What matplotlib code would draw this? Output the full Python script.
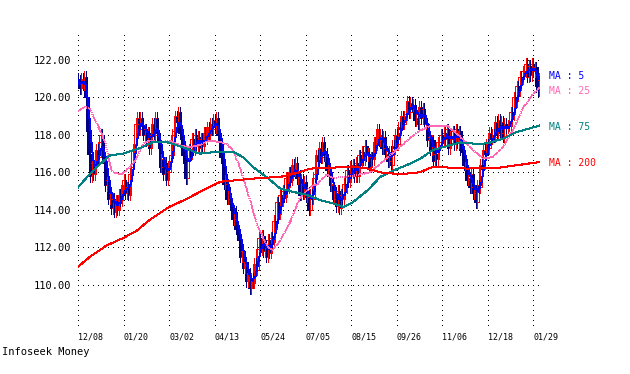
import numpy as np
import pandas as pd
import matplotlib
matplotlib.use('Agg')
import matplotlib.pyplot as plt

# daily closes, 12/08 .. 01/29 (about 305 trading days)
closes = [
    120.9, 120.5, 121.0, 120.7, 121.1, 120.0, 118.2, 117.0, 115.8, 116.5,
    115.9, 116.6, 117.2, 116.8, 117.6, 118.0, 117.1, 116.5, 115.3, 115.6,
    114.6, 114.9, 114.1, 114.6, 113.9, 114.5, 114.0, 114.8, 114.5, 115.3,
    115.6, 114.9, 115.2, 114.8, 115.9, 116.3, 117.2, 117.5, 118.6, 118.9,
    118.3, 118.9, 118.5, 118.0, 118.3, 117.7, 118.1, 117.3, 118.0, 118.6,
    118.0, 118.9, 118.1, 117.6, 116.3, 116.7, 115.9, 116.5, 115.6, 116.0,
    116.6, 116.9, 118.0, 118.2, 119.0, 118.7, 119.2, 118.1, 118.0, 116.9,
    116.5, 115.7, 116.6, 117.2, 117.0, 117.8, 117.2, 118.0, 117.4, 117.9,
    117.3, 117.8, 117.4, 118.1, 117.8, 118.4, 118.0, 118.6, 118.3, 118.8,
    118.4, 118.9, 118.0, 117.8, 116.8, 116.6, 115.4, 115.6, 114.6, 114.9,
    114.3, 114.0, 113.5, 113.9, 113.0, 112.7, 112.4, 111.5, 111.8, 110.9,
    111.2, 110.2, 110.6, 109.8, 110.3, 110.1, 111.1, 110.8, 111.9, 112.5,
    111.9, 112.6, 111.8, 112.1, 111.5, 112.4, 111.7, 112.5, 112.3, 113.4,
    113.3, 114.4, 113.8, 114.8, 114.5, 115.0, 114.7, 115.7, 115.2, 116.0,
    115.6, 116.4, 116.1, 116.5, 115.7, 115.8, 114.8, 115.6, 114.9, 115.5,
    114.7, 114.9, 114.0, 114.8, 114.6, 115.7, 115.9, 116.9, 116.6, 117.3,
    116.8, 117.6, 116.9, 117.0, 116.1, 116.2, 115.3, 115.4, 114.6, 114.9,
    114.2, 115.0, 114.1, 114.8, 114.6, 115.4, 115.2, 116.1, 115.5, 116.3,
    116.0, 116.4, 115.8, 116.5, 115.8, 116.9, 116.6, 117.1, 116.7, 117.4,
    116.9, 117.0, 116.3, 116.8, 116.7, 117.6, 117.5, 118.3, 117.7, 118.0,
    117.3, 117.9, 117.0, 117.0, 116.6, 117.1, 116.4, 117.4, 117.3, 118.0,
    117.5, 118.4, 118.3, 119.0, 118.6, 119.0, 119.1, 119.8, 119.2, 119.7,
    119.6, 119.6, 118.8, 118.9, 118.6, 119.5, 118.9, 119.4, 118.6, 118.6,
    117.7, 117.9, 117.2, 117.7, 116.6, 117.0, 116.7, 117.6, 117.6, 118.0,
    117.7, 118.1, 117.8, 118.3, 117.3, 117.9, 117.8, 118.2, 117.5, 118.3,
    117.6, 118.2, 117.2, 117.1, 116.4, 116.4, 115.6, 115.7, 115.2, 115.9,
    114.9, 115.0, 114.4, 115.3, 115.2, 116.4, 116.2, 117.2, 117.0, 117.5,
    117.3, 118.1, 117.8, 118.0, 117.9, 118.7, 118.0, 118.8, 118.1, 118.7,
    117.9, 118.6, 118.4, 118.5, 118.5, 119.2, 119.1, 120.0, 119.8, 120.6,
    120.4, 121.1, 121.0, 121.4, 121.4, 121.8, 121.1, 121.7, 121.2, 121.8,
    121.4, 121.6, 120.6, 120.4, 121.0,
]
first_open = 121.0
WICK = 0.3

# longer moving averages (day index, value)
ma25_day = [0, 4, 8, 11, 14, 18, 20, 22, 25, 29, 33, 38, 41, 44, 47, 54, 61,
            67, 74, 80, 87, 94, 98, 102, 107, 113, 118, 125, 128, 133, 140,
            146, 153, 158, 164, 168, 175, 184, 192, 197, 204, 212, 217, 223,
            232, 243, 252, 260, 267, 273, 280, 287, 293, 300, 304]
ma25_val = [119.25, 119.5, 119.4, 118.8, 118.35, 117.6, 116.8, 116.1, 115.95,
            115.9, 116.2, 116.65, 117.2, 117.6, 117.7, 117.6, 117.7, 117.45,
            117.35, 117.45, 117.7, 117.6, 117.5, 117.2, 116.2, 114.6, 113.2,
            112.0, 111.85, 112.3, 113.4, 114.6, 115.2, 115.4, 115.9, 115.7,
            115.75, 115.85, 116.0, 116.3, 116.8, 117.35, 117.7, 118.1, 118.5,
            118.5, 117.9, 117.2, 116.75, 116.8, 117.35, 118.3, 119.4, 120.2,
            120.5]

ma75_day = [0, 6, 14, 21, 30, 41, 49, 59, 67, 80, 92, 102, 109, 115, 125, 133,
            142, 151, 160, 168, 175, 181, 191, 199, 208, 217, 225, 234, 252,
            265, 272, 280, 289, 300, 304]
ma75_val = [115.2, 115.75, 116.4, 116.9, 117.0, 117.3, 117.6, 117.6, 117.4,
            117.0, 117.1, 117.1, 116.8, 116.3, 115.7, 115.15, 114.95, 114.8,
            114.5, 114.35, 114.15, 114.4, 115.05, 115.75, 116.1, 116.4, 116.7,
            117.2, 117.6, 117.5, 117.6, 117.8, 118.15, 118.4, 118.5]

ma200_day = [0, 8, 19, 30, 39, 47, 59, 72, 85, 94, 107, 120, 133, 146, 153,
             168, 181, 191, 199, 212, 225, 234, 256, 278, 291, 304]
ma200_val = [110.95, 111.5, 112.1, 112.5, 112.9, 113.45, 114.1, 114.6, 115.15,
             115.5, 115.6, 115.7, 115.75, 116.0, 116.2, 116.25, 116.3, 116.2,
             116.0, 115.9, 116.0, 116.3, 116.2, 116.25, 116.4, 116.55]

date_pos = [0, 30, 60, 90, 120, 150, 180, 210, 240, 270, 300]
date_lbl = ['12/08', '01/20', '03/02', '04/13', '05/24', '07/05', '08/15',
            '09/26', '11/06', '12/18', '01/29']
price_ticks = [110, 112, 114, 116, 118, 120, 122]

ma_names = ['MA : 5', 'MA : 25', 'MA : 75', 'MA : 200']

C_UP, C_DN = '#FF0000', '#000080'
C5, C25, C75, C200 = '#0000FF', '#FF69B4', '#008080', '#FF0000'
MONO = 'DejaVu Sans Mono'
LW = 0.72  # one pixel at 100 dpi

plt.rcParams.update({'lines.antialiased': False, 'patch.antialiased': False,
                     'font.family': MONO})

c = np.array(closes)
o = np.concatenate([[first_open], c[:-1]])
idx = np.arange(len(c))
hi = np.maximum(o, c) + WICK
lo = np.minimum(o, c) - WICK
up = c >= o
ma5 = pd.Series(c).rolling(5, min_periods=1).mean().values

fig = plt.figure(figsize=(6.3, 3.74), dpi=100)
ax = fig.add_axes([78 / 630, 44 / 374, 462 / 630, 300 / 374])
for s in ax.spines.values():
    s.set_visible(False)

# candles
ax.vlines(idx[up], lo[up], hi[up], color=C_UP, lw=LW)
ax.vlines(idx[~up], lo[~up], hi[~up], color=C_DN, lw=LW)
ax.bar(idx[~up], (o - c)[~up], bottom=c[~up], width=1.9,
       color=C_DN, edgecolor=C_DN, lw=LW)
ax.bar(idx[up], (c - o)[up], bottom=o[up], width=1.9,
       facecolor='none', edgecolor=C_UP, lw=LW)

# moving averages
ax.plot(idx, ma5, color=C5, lw=LW)
ax.plot(ma25_day, ma25_val, color=C25, lw=LW, ls=(0, (1, 2)))
ax.plot(ma75_day, ma75_val, color=C75, lw=LW)
ax.plot(ma200_day, ma200_val, color=C200, lw=LW)

ax.set_xlim(0, 304.4)
ax.set_ylim(107.58, 123.6)
ax.set_yticks(price_ticks)
ax.set_yticklabels(['%.2f' % v for v in price_ticks], fontsize=7.5)
ax.set_xticks(date_pos)
ax.set_xticklabels(date_lbl, fontsize=6, ha='left')
ax.tick_params(axis='y', length=0, pad=5)
ax.tick_params(axis='x', length=0, pad=2)
ax.grid(True, color='black', lw=LW, ls=(0, (1, 4.5)))
ax.set_axisbelow(True)

# legend labels at the right edge, stacked near the last values
for lbl, col, ypx in zip(ma_names, [C5, C25, C75, C200], [76, 91, 127, 163]):
    fig.text(549 / 630, 1 - ypx / 374, lbl, color=col, fontsize=7,
             va='center')

fig.text(2 / 630, 1 - 352 / 374, 'Infoseek Money', fontsize=7.5,
         va='center', family=MONO)

fig.savefig('out.png', dpi=100)
